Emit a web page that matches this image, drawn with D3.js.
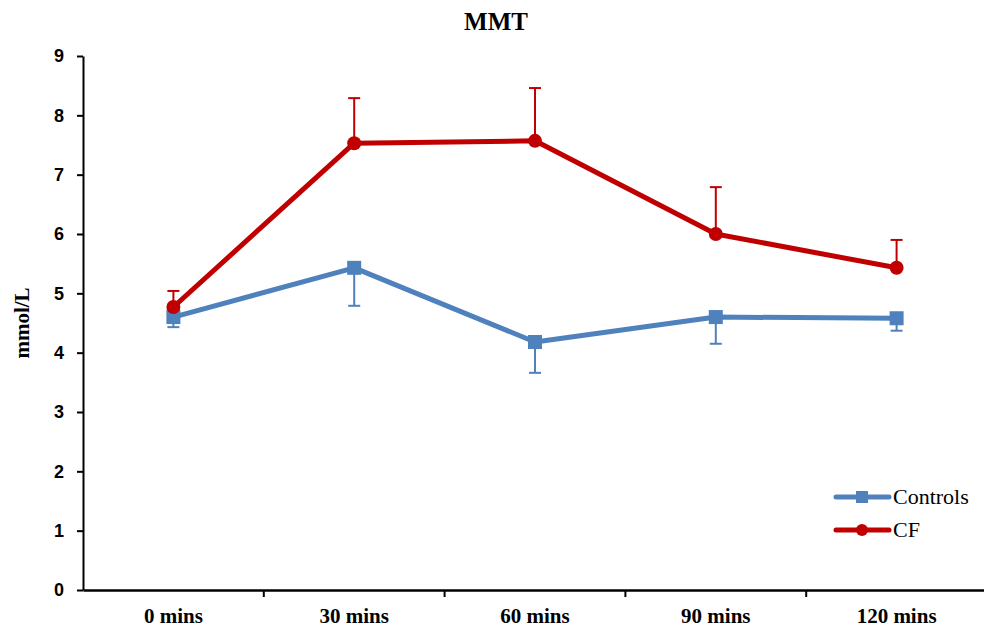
<!DOCTYPE html>
<html><head><meta charset="utf-8">
<script src="https://cdn.jsdelivr.net/npm/d3@7"></script>
<style>body{margin:0;background:#fff}</style>
</head><body>
<script>
const categories = ["0 mins","30 mins","60 mins","90 mins","120 mins"];
const controlsValues = [4.60, 5.43, 4.18, 4.60, 4.58];
const controlsErr = [0.17, 0.64, 0.52, 0.45, 0.21];
const cfValues = [4.77, 7.53, 7.57, 6.00, 5.43];
const cfErr = [0.27, 0.76, 0.89, 0.79, 0.47];
const yTicks = [0,1,2,3,4,5,6,7,8,9];

const W = 984, H = 632;
const svg = d3.select("body").append("svg").attr("width", W).attr("height", H);
const x = d3.scaleBand().domain(categories).range([83, 987]);
const y = d3.scaleLinear().domain([0, 9]).range([590, 56]);
const serif = "'Liberation Serif', serif";
const sans = "'Liberation Sans', sans-serif";

svg.append("text").attr("x", 496).attr("y", 30).attr("text-anchor","middle")
  .attr("font-family", serif).attr("font-weight","bold").attr("font-size", 25).text("MMT");

// y axis
const ya = svg.append("g").attr("transform","translate(83,0)")
  .call(d3.axisLeft(y).tickValues(yTicks).tickSize(6).tickSizeOuter(0).tickPadding(13));
ya.attr("font-size", null).attr("font-family", null);
ya.select(".domain").attr("stroke","#000").attr("stroke-width",2);
ya.selectAll(".tick line").attr("stroke","#000").attr("stroke-width",2);
ya.selectAll("text").attr("font-family", sans).attr("font-weight","bold").attr("font-size",18).attr("fill","#000");

// x axis
const xa = svg.append("g").attr("transform","translate(0,590)")
  .call(d3.axisBottom(x).tickSize(0).tickPadding(18));
xa.attr("font-size", null).attr("font-family", null);
xa.select(".domain").attr("stroke","#000").attr("stroke-width",2.5);
xa.selectAll("text").attr("font-family", serif).attr("font-weight","bold").attr("font-size",21).attr("fill","#000");
// boundary ticks between categories
xa.selectAll(".bt").data(categories.slice(1)).enter().append("line")
  .attr("x1", d => x(d)).attr("x2", d => x(d)).attr("y1",0).attr("y2",7)
  .attr("stroke","#000").attr("stroke-width",2);

svg.append("text").attr("transform","translate(29,323) rotate(-90)").attr("text-anchor","middle")
  .attr("font-family", serif).attr("font-weight","bold").attr("font-size",21).text("mmol/L");

const cx = d => x(d) + x.bandwidth()/2;
const blue = "#4F81BD", red = "#C00000";

// error bars
function errBars(vals, errs, color, dir) {
  const g = svg.append("g");
  categories.forEach((c,i) => {
    const y0 = y(vals[i]), y1 = y(vals[i] + dir*errs[i]);
    g.append("line").attr("x1",cx(c)).attr("x2",cx(c)).attr("y1",y0).attr("y2",y1)
      .attr("stroke",color).attr("stroke-width",2);
    g.append("line").attr("x1",cx(c)-6).attr("x2",cx(c)+6).attr("y1",y1).attr("y2",y1)
      .attr("stroke",color).attr("stroke-width",2);
  });
}
errBars(controlsValues, controlsErr, blue, -1);
errBars(cfValues, cfErr, red, 1);

const line = d3.line().x((d,i) => cx(categories[i])).y(d => y(d));
svg.append("path").attr("d", line(controlsValues)).attr("fill","none")
  .attr("stroke",blue).attr("stroke-width",5).attr("stroke-linejoin","round");
svg.selectAll(".sq").data(controlsValues).enter().append("rect")
  .attr("x",(d,i)=>cx(categories[i])-7).attr("y",d=>y(d)-7).attr("width",14).attr("height",14).attr("fill",blue);

svg.append("path").attr("d", line(cfValues)).attr("fill","none")
  .attr("stroke",red).attr("stroke-width",5).attr("stroke-linejoin","round");
svg.selectAll(".ci").data(cfValues).enter().append("circle")
  .attr("cx",(d,i)=>cx(categories[i])).attr("cy",d=>y(d)).attr("r",7).attr("fill",red);

// legend
const leg = [{name:"Controls", color:blue, shape:"sq"},{name:"CF", color:red, shape:"ci"}];
leg.forEach((l,i) => {
  const ly = 497 + i*33;
  svg.append("line").attr("x1",836).attr("x2",889).attr("y1",ly).attr("y2",ly)
    .attr("stroke",l.color).attr("stroke-width",5).attr("stroke-linecap","round");
  if (l.shape==="sq") svg.append("rect").attr("x",856).attr("y",ly-6).attr("width",12).attr("height",12).attr("fill",l.color);
  else svg.append("circle").attr("cx",862).attr("cy",ly).attr("r",6).attr("fill",l.color);
  svg.append("text").attr("x",893).attr("y",ly+7).attr("font-family",serif).attr("font-size",22).text(l.name);
});
</script>
</body></html>
